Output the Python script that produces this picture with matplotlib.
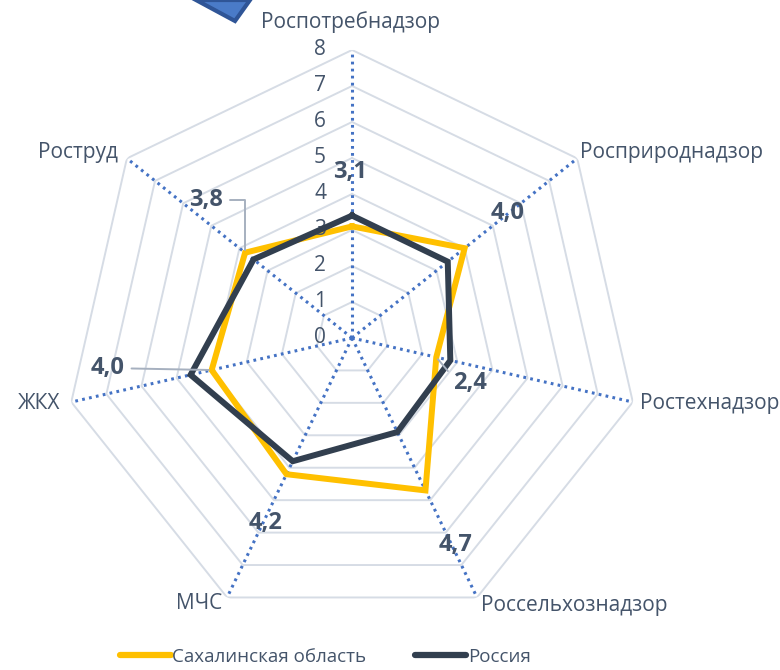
import numpy as np
import matplotlib
matplotlib.use("Agg")
import matplotlib.pyplot as plt
from matplotlib.lines import Line2D
from matplotlib.patches import Polygon

plt.rcParams['font.family'] = ['Open Sans', 'DejaVu Sans']

categories = ['Роспотребнадзор', 'Росприроднадзор', 'Ростехнадзор', 'Россельхознадзор',
              'МЧС', 'ЖКХ', 'Роструд']
sakhalin = [3.1, 4.0, 2.4, 4.7, 4.2, 4.0, 3.8]
russia = [3.4, 3.4, 2.8, 2.9, 3.8, 4.6, 3.5]
ticks = [0, 1, 2, 3, 4, 5, 6, 7, 8]
series_names = ['Сахалинская область', 'Россия']

text_c = '#44546A'
yellow = '#FFC000'
dark = '#323F4F'
grid_c = '#D6DCE5'
spoke_c = '#4472C4'

n = len(categories)
theta = np.arange(n) * 2 * np.pi / n
theta_c = np.append(theta, theta[0])

fig = plt.figure(figsize=(7.8, 6.7), dpi=100)
ax = fig.add_axes([0.0821, 0.0657, 0.7385, 0.8597], projection='polar')
ax.set_theta_offset(np.pi / 2)
ax.set_theta_direction(-1)
ax.set_ylim(0, 8)
ax.spines['polar'].set_visible(False)
ax.grid(False)
ax.set_xticks([])
ax.set_yticks([])
ax.patch.set_visible(False)

# polygon grid
for r in ticks[1:]:
    ax.plot(theta_c, [r] * (n + 1), color=grid_c, lw=1.4, zorder=1)
# dotted spokes
for t in theta:
    ax.plot([t, t], [0, 8], color=spoke_c, lw=2.2, ls=(0, (0.9, 1.4)), zorder=2)

ax.plot(theta_c, sakhalin + sakhalin[:1], color=yellow, lw=4.3, zorder=3,
        solid_joinstyle='miter')
ax.plot(theta_c, russia + russia[:1], color=dark, lw=4.3, zorder=4,
        solid_joinstyle='miter')

# radial tick labels
for v in ticks:
    ax.annotate(str(v), xy=(0, v), xytext=(-32, 0), textcoords='offset pixels',
                ha='center', va='center', fontsize=15, color=text_c)

# category labels
cat_off = [(-2, 28, 'center'), (3, 6, 'left'), (7, -1, 'left'), (4, -8, 'left'),
           (-5, -6, 'right'), (-11, -1, 'right'), (-9, 6, 'right')]
for t, name, (dx, dy, ha) in zip(theta, categories, cat_off):
    ax.annotate(name, xy=(t, 8), xytext=(dx, dy), textcoords='offset pixels',
                ha=ha, va='center', fontsize=15, color=text_c)

# data labels (Сахалинская область)
lab_off = [(-2, 54, None), (43, 35, None), (34, -26, 'angle,angleA=0,angleB=130'),
           (30, -55, None), (-21, -49, None), (-104, 2, 'arc3'),
           (-39, 53, 'angle,angleA=0,angleB=90')]
for t, v, (dx, dy, conn) in zip(theta, sakhalin, lab_off):
    arrow = None
    if conn:
        arrow = dict(arrowstyle='-', color='#A6B0BF', lw=1.4, connectionstyle=conn,
                     shrinkA=3, shrinkB=2)
    ax.annotate(f'{v:.1f}'.replace('.', ','), xy=(t, v), xytext=(dx, dy),
                textcoords='offset pixels', ha='center', va='center',
                fontsize=17, fontweight='bold', color=text_c, arrowprops=arrow,
                zorder=6)

# decorative icon clipped at the top
fig.patches.append(Polygon([(196, 670), (235, 649), (250, 670)], closed=True,
                           transform=None, facecolor='#4A7BC8', edgecolor='#2F5597',
                           lw=3))

handles = [Line2D([], [], color=yellow, lw=4.5, solid_capstyle='round'),
           Line2D([], [], color=dark, lw=4.5, solid_capstyle='round')]
fig.legend(handles, series_names, loc='center left', bbox_to_anchor=(120 / 780, 0.02),
           ncol=2, frameon=False, fontsize=13.5, handlelength=2.7, handletextpad=0.1,
           columnspacing=2.6, borderpad=0, borderaxespad=0, labelcolor=text_c)

fig.savefig('out.png', dpi=100)
